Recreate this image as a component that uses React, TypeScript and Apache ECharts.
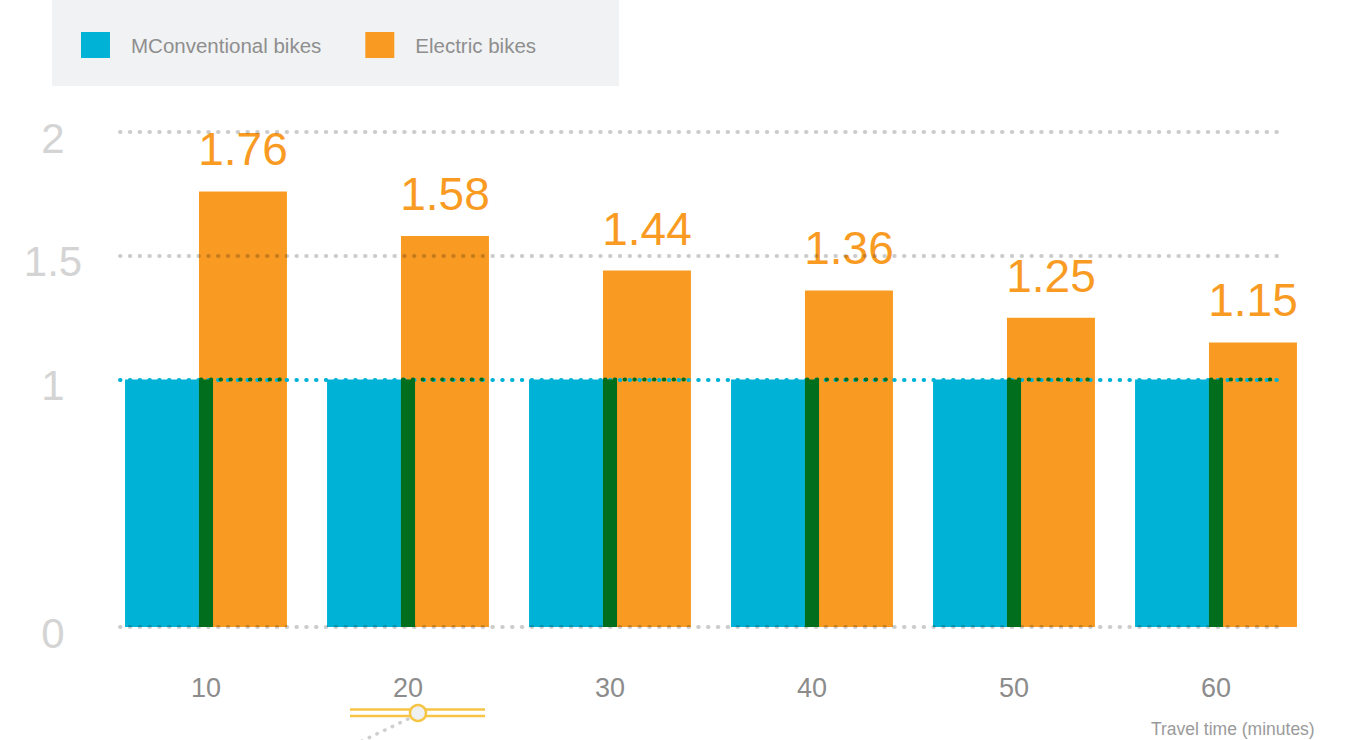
import React, { useEffect, useRef } from "react";
import * as echarts from "echarts";

const CATEGORIES = ["10", "20", "30", "40", "50", "60"];
const CONVENTIONAL = [1, 1, 1, 1, 1, 1];
const ELECTRIC = [1.76, 1.58, 1.44, 1.36, 1.25, 1.15];
const Y_TICKS = [0, 1, 1.5, 2];
const GRID_LINES = [0, 1.5, 2];
const REFERENCE = 1;
const SERIES_NAMES = ["MConventional bikes", "Electric bikes"];

const BLUE = "#00B3D6";
const ORANGE = "#F99B23";
const OVERLAP = "#006E1D";
const FONT = "'Liberation Sans', Arial, sans-serif";
const BAR_WIDTH = 88;
const BAR_GAP = 0.16;
const LINES_LEFT = 120;
const LINES_RIGHT = 74;
const CHART_W = 1352;

export default function App() {
  const ref = useRef<HTMLDivElement>(null);
  useEffect(() => {
    if (!ref.current) return;
    const chart = echarts.init(ref.current, null, { renderer: "svg" });
    const dotted = { type: [0.5, 9.3] as any, cap: "round" as any, width: 4 };
    const lineEnd = CHART_W - LINES_RIGHT;
    chart.setOption({
      animation: false,
      backgroundColor: "#ffffff",
      textStyle: { fontFamily: FONT },
      title: {
        text: "Travel time (minutes)",
        left: 1151,
        top: 720,
        padding: 0,
        textStyle: { fontSize: 17.5, fontWeight: "normal", color: "#9a9a9a", fontFamily: FONT },
      },
      legend: {
        data: SERIES_NAMES,
        left: 52,
        top: 0,
        padding: [32, 83, 28, 29],
        backgroundColor: "#f1f2f4",
        icon: "rect",
        itemWidth: 29,
        itemHeight: 26,
        itemGap: 44,
        selectedMode: false,
        textStyle: { fontSize: 20.5, color: "#8e8e8e", fontFamily: FONT, padding: [3, 0, 0, 16] },
      },
      grid: [
        { left: LINES_LEFT, right: LINES_RIGHT, top: 132, bottom: 113 },
        { left: 105, right: 35, top: 132, bottom: 113 },
        { left: LINES_LEFT, right: LINES_RIGHT, top: 138, bottom: 107 },
      ],
      xAxis: [
        { type: "value", gridIndex: 0, show: false, min: 0, max: 1 },
        {
          type: "category",
          gridIndex: 1,
          data: CATEGORIES,
          axisLine: { show: false },
          axisTick: { show: false },
          axisLabel: { fontSize: 27, color: "#8c8c8c", margin: 47, fontFamily: FONT },
        },
        { type: "value", gridIndex: 2, show: false, min: 0, max: 1 },
      ],
      yAxis: [
        { type: "value", gridIndex: 0, min: 0, max: 2, show: false },
        { type: "value", gridIndex: 1, min: 0, max: 2, show: false },
        {
          type: "value",
          gridIndex: 2,
          min: 0,
          max: 2,
          interval: 0.5,
          axisLine: { show: false },
          axisTick: { show: false },
          splitLine: { show: false },
          axisLabel: {
            fontSize: 42,
            color: "#d4d4d4",
            align: "center",
            margin: 67,
            fontFamily: FONT,
            formatter: (v: number) => (Y_TICKS.indexOf(v) >= 0 ? String(v) : ""),
          },
        },
      ],
      series: [
        {
          name: SERIES_NAMES[0],
          type: "bar",
          xAxisIndex: 1,
          yAxisIndex: 1,
          data: CONVENTIONAL,
          barWidth: BAR_WIDTH,
          barGap: `-${BAR_GAP * 100}%`,
          itemStyle: { color: BLUE },
          z: 2,
        },
        {
          name: SERIES_NAMES[1],
          type: "bar",
          xAxisIndex: 1,
          yAxisIndex: 1,
          data: ELECTRIC,
          barWidth: BAR_WIDTH,
          itemStyle: { color: ORANGE },
          label: {
            show: true,
            position: "top",
            distance: 19,
            fontSize: 46,
            color: ORANGE,
            fontFamily: FONT,
          },
          z: 2,
        },
        {
          name: "reference",
          type: "line",
          xAxisIndex: 0,
          yAxisIndex: 0,
          data: [],
          z: 1,
          markLine: {
            silent: true,
            symbol: "none",
            label: { show: false },
            lineStyle: { ...dotted, color: BLUE },
            data: [{ yAxis: REFERENCE }],
          },
        },
        {
          name: "gridlines",
          type: "line",
          xAxisIndex: 0,
          yAxisIndex: 0,
          data: [],
          z: 5,
          markLine: {
            silent: true,
            symbol: "none",
            label: { show: false },
            lineStyle: { ...dotted, color: "rgba(0,0,0,0.2)" },
            data: GRID_LINES.map((v) => ({ yAxis: v })),
          },
        },
        {
          name: "overlap",
          type: "custom",
          xAxisIndex: 1,
          yAxisIndex: 1,
          z: 6,
          silent: true,
          data: CATEGORIES.map((c, i) => [i, CONVENTIONAL[i], ELECTRIC[i]]),
          renderItem: (params: any, api: any) => {
            const idx = api.value(0);
            const conv = api.value(1);
            const elec = api.value(2);
            const base = api.coord([idx, 0]);
            const top = api.coord([idx, Math.min(conv, elec)]);
            const gap = BAR_WIDTH * BAR_GAP;
            const x0 = base[0] - gap / 2;
            const children: any[] = [
              {
                type: "rect",
                shape: { x: x0, y: top[1], width: gap, height: base[1] - top[1] },
                style: { fill: OVERLAP },
              },
            ];
            if (elec > REFERENCE) {
              const ry = api.coord([idx, REFERENCE])[1];
              const x1 = Math.min(x0 + BAR_WIDTH, lineEnd);
              children.push({
                type: "line",
                shape: { x1: x0 + 2, y1: ry, x2: x1, y2: ry },
                style: { stroke: OVERLAP, lineWidth: 4, lineDash: [0.5, 9.3], lineCap: "round" },
              });
            }
            return { type: "group", children };
          },
        },
      ],
      graphic: [
        {
          type: "line",
          shape: { x1: 350, y1: 709.5, x2: 485, y2: 709.5 },
          style: { stroke: "#F6C545", lineWidth: 2.5 },
          silent: true,
        },
        {
          type: "line",
          shape: { x1: 350, y1: 716, x2: 485, y2: 716 },
          style: { stroke: "#F6C545", lineWidth: 2.5 },
          silent: true,
        },
        {
          type: "line",
          shape: { x1: 408, y1: 719, x2: 360, y2: 742 },
          style: { stroke: "#cfcfcf", lineWidth: 3.5, lineDash: [0.5, 8], lineCap: "round" },
          silent: true,
        },
        {
          type: "circle",
          shape: { cx: 418, cy: 713, r: 8 },
          style: { fill: "#eef0f2", stroke: "#F6C545", lineWidth: 2.5 },
          silent: true,
        },
      ],
    });
    return () => chart.dispose();
  }, []);
  return (
    <div
      ref={ref}
      style={{ position: "fixed", left: 0, top: 0, width: 1352, height: 740, background: "#fff" }}
    />
  );
}
